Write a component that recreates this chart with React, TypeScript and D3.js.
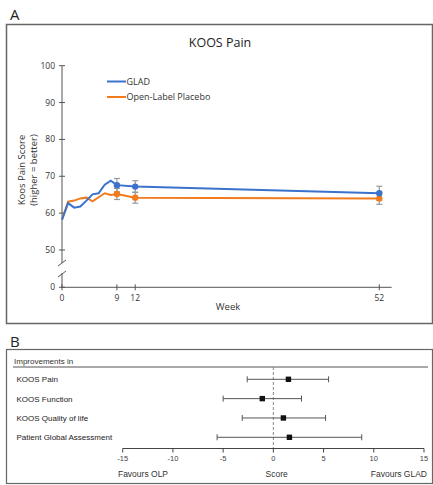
import React from "react";
import * as d3 from "d3";

const weeks = [0, 1, 2, 3, 4, 5, 6, 7, 8, 9, 12, 52];
const gladScores = [58.2, 62.7, 61.5, 61.8, 63.4, 65.1, 65.4, 67.7, 68.8, 67.6, 67.2, 65.4];
const olpScores = [58.2, 63.1, 63.4, 64.0, 64.2, 63.2, 64.3, 65.4, 64.9, 65.2, 64.2, 64.0];
const markerWeeks = [9, 12, 52];
const gladErr = [1.8, 1.6, 1.9];
const olpErr = [1.5, 1.5, 1.6];
const yTicks = [50, 60, 70, 80, 90, 100];
const xTicks = [0, 9, 12, 52];
const seriesNames = ["GLAD", "Open-Label Placebo"];

const outcomes = ["KOOS Pain", "KOOS Function", "KOOS Quality of life", "Patient Global Assessment"];
const estimates = [1.5, -1.1, 1.0, 1.6];
const lowerCI = [-2.6, -5.0, -3.1, -5.6];
const upperCI = [5.5, 2.8, 5.2, 8.8];
const scoreTicks = [-15, -10, -5, 0, 5, 10, 15];

const BLUE = "#3a72cc";
const ORANGE = "#f27b1e";
const FONT = "'Open Sans', 'Liberation Sans', sans-serif";
const FONTB = "'Liberation Sans', Arial, sans-serif";

export default function App() {
  const x = d3.scaleLinear().domain([0, 52]).range([62, 379.3]);
  const y = d3.scaleLinear().domain([50, 100]).range([250, 65.7]);
  const yZero = 287.3;
  const line = d3
    .line<number>()
    .x((_, i) => x(weeks[i]))
    .y((d) => y(d));

  const xs = d3.scaleLinear().domain([-15, 15]).range([122.7, 424]);
  const rowY = d3.scalePoint<string>().domain(outcomes).range([379.3, 437.3]);
  const axisY = 448.5;

  return (
    <svg width={433} height={485} style={{ position: "absolute", left: 0, top: 0, background: "#fff" }}>
      {/* Panel A */}
      <text x={10} y={20} fontFamily={FONT} fontSize={15} fill="#222">A</text>
      <rect x={6.5} y={24.5} width={426} height={299} fill="none" stroke="#666" strokeWidth={1.5} />
      <text x={220} y={47} textAnchor="middle" fontFamily={FONT} fontSize={12.5} fill="#222">KOOS Pain</text>

      {/* y axis */}
      <line x1={62} x2={62} y1={y(100)} y2={263} stroke="#555" strokeWidth={1} />
      <line x1={62} x2={62} y1={273} y2={yZero} stroke="#555" strokeWidth={1} />
      <line x1={58} x2={66} y1={266} y2={260} stroke="#555" strokeWidth={1} />
      <line x1={58} x2={66} y1={277} y2={271} stroke="#555" strokeWidth={1} />
      {yTicks.map((t) => (
        <g key={t}>
          <line x1={59} x2={65} y1={y(t)} y2={y(t)} stroke="#555" />
          <text x={55} y={y(t) + 3} textAnchor="end" fontFamily={FONT} fontSize={8.5} fill="#333">{t}</text>
        </g>
      ))}
      <line x1={59} x2={65} y1={yZero} y2={yZero} stroke="#555" />
      <text x={55} y={yZero + 3} textAnchor="end" fontFamily={FONT} fontSize={8.5} fill="#333">0</text>

      {/* x axis */}
      <line x1={62} x2={391.7} y1={yZero} y2={yZero} stroke="#555" strokeWidth={1} />
      {xTicks.map((t) => (
        <g key={t}>
          <line x1={x(t)} x2={x(t)} y1={yZero - 3} y2={yZero + 3} stroke="#555" />
          <text x={x(t)} y={yZero + 14} textAnchor="middle" fontFamily={FONT} fontSize={8.5} fill="#333">{t}</text>
        </g>
      ))}
      <text x={228} y={310} textAnchor="middle" fontFamily={FONT} fontSize={9.5} fill="#333">Week</text>
      <text transform="translate(25,170) rotate(-90)" textAnchor="middle" fontFamily={FONT} fontSize={9.5} fill="#333">Koos Pain Score</text>
      <text transform="translate(37,170) rotate(-90)" textAnchor="middle" fontFamily={FONT} fontSize={9.5} fill="#333">(higher = better)</text>

      {/* legend */}
      <line x1={107} x2={126} y1={81.5} y2={81.5} stroke={BLUE} strokeWidth={2} />
      <text x={126.5} y={84.7} fontFamily={FONT} fontSize={9} fill="#333">{seriesNames[0]}</text>
      <line x1={107} x2={126} y1={97} y2={97} stroke={ORANGE} strokeWidth={2} />
      <text x={126.5} y={100.2} fontFamily={FONT} fontSize={9} fill="#333">{seriesNames[1]}</text>

      {/* error bars */}
      {markerWeeks.map((w, i) => {
        const gi = weeks.indexOf(w);
        return (
          <g key={w} stroke="#999" strokeWidth={1.2}>
            <line x1={x(w)} x2={x(w)} y1={y(gladScores[gi] + gladErr[i])} y2={y(gladScores[gi] - gladErr[i])} />
            <line x1={x(w) - 3} x2={x(w) + 3} y1={y(gladScores[gi] + gladErr[i])} y2={y(gladScores[gi] + gladErr[i])} />
            <line x1={x(w) - 3} x2={x(w) + 3} y1={y(gladScores[gi] - gladErr[i])} y2={y(gladScores[gi] - gladErr[i])} />
            <line x1={x(w)} x2={x(w)} y1={y(olpScores[gi] + olpErr[i])} y2={y(olpScores[gi] - olpErr[i])} />
            <line x1={x(w) - 3} x2={x(w) + 3} y1={y(olpScores[gi] + olpErr[i])} y2={y(olpScores[gi] + olpErr[i])} />
            <line x1={x(w) - 3} x2={x(w) + 3} y1={y(olpScores[gi] - olpErr[i])} y2={y(olpScores[gi] - olpErr[i])} />
          </g>
        );
      })}

      {/* lines */}
      <path d={line(olpScores) || ""} fill="none" stroke={ORANGE} strokeWidth={2} />
      <path d={line(gladScores) || ""} fill="none" stroke={BLUE} strokeWidth={2} />
      {markerWeeks.map((w) => {
        const gi = weeks.indexOf(w);
        return (
          <g key={"m" + w}>
            <circle cx={x(w)} cy={y(olpScores[gi])} r={3.2} fill={ORANGE} />
            <circle cx={x(w)} cy={y(gladScores[gi])} r={3.2} fill={BLUE} />
          </g>
        );
      })}

      {/* Panel B */}
      <text x={10} y={347} fontFamily={FONT} fontSize={15} fill="#222">B</text>
      <rect x={6.5} y={349.5} width={426} height={134} fill="none" stroke="#666" strokeWidth={1.2} />
      <text x={14} y={364} fontFamily={FONTB} fontSize={8} fill="#333">Improvements in</text>
      <line x1={13} x2={428} y1={367} y2={367} stroke="#555" strokeWidth={1} />
      <line x1={xs(0)} x2={xs(0)} y1={367} y2={axisY} stroke="#888" strokeDasharray="3,2" strokeWidth={1} />

      {outcomes.map((o, i) => {
        const cy = rowY(o) as number;
        return (
          <g key={o}>
            <text x={16.5} y={cy + 3} fontFamily={FONTB} fontSize={8} fill="#222">{o}</text>
            <line x1={xs(lowerCI[i])} x2={xs(upperCI[i])} y1={cy} y2={cy} stroke="#555" strokeWidth={1} />
            <line x1={xs(lowerCI[i])} x2={xs(lowerCI[i])} y1={cy - 3} y2={cy + 3} stroke="#555" strokeWidth={1} />
            <line x1={xs(upperCI[i])} x2={xs(upperCI[i])} y1={cy - 3} y2={cy + 3} stroke="#555" strokeWidth={1} />
            <rect x={xs(estimates[i]) - 2.7} y={cy - 2.7} width={5.4} height={5.4} fill="#111" />
          </g>
        );
      })}

      <line x1={xs(-15)} x2={xs(15)} y1={axisY} y2={axisY} stroke="#444" strokeWidth={1} />
      {scoreTicks.map((t) => (
        <g key={t}>
          <line x1={xs(t)} x2={xs(t)} y1={axisY} y2={axisY + 4} stroke="#444" />
          <text x={xs(t)} y={axisY + 12} textAnchor="middle" fontFamily={FONTB} fontSize={7.5} fill="#444">{t}</text>
        </g>
      ))}
      <text x={143} y={477} textAnchor="middle" fontFamily={FONTB} fontSize={8.5} fill="#333">Favours OLP</text>
      <text x={276.7} y={477} textAnchor="middle" fontFamily={FONTB} fontSize={8.5} fill="#333">Score</text>
      <text x={427} y={477} textAnchor="end" fontFamily={FONTB} fontSize={8.5} fill="#333">Favours GLAD</text>
    </svg>
  );
}
